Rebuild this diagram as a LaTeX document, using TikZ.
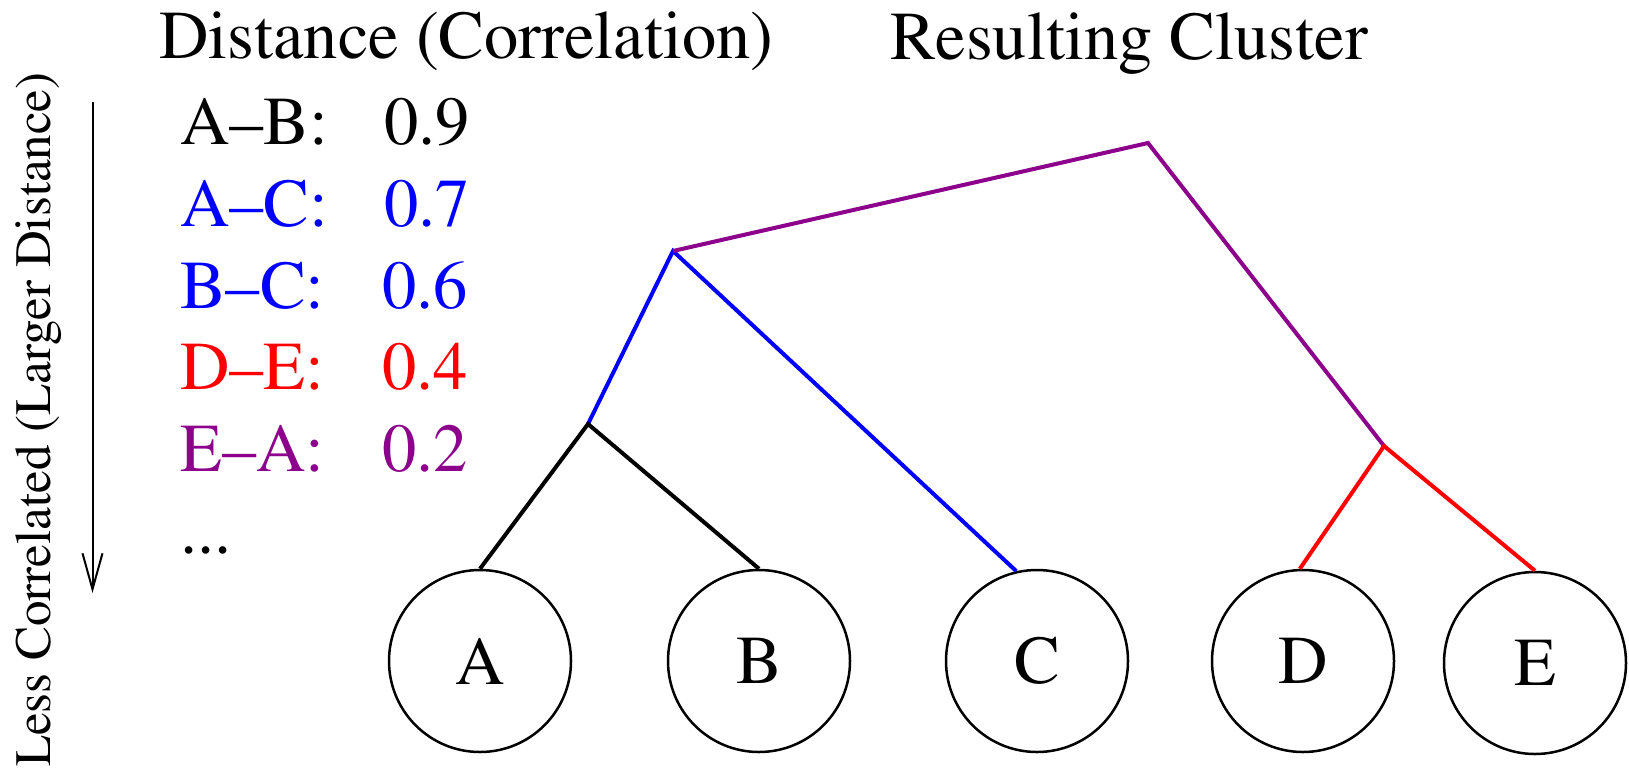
\documentclass[tikz,border=0pt]{standalone}
\usepackage[T1]{fontenc}
\renewcommand{\rmdefault}{ptm}
\usetikzlibrary{arrows.meta}
\definecolor{mypurple}{RGB}{140,0,140}
\definecolor{myblue}{RGB}{0,0,255}
\definecolor{myred}{RGB}{255,0,0}
\begin{document}
\begin{tikzpicture}[x=1pt,y=-1pt,
  txt/.style={anchor=base west,inner sep=0pt,font=\rmfamily\fontsize{68.5}{80}\selectfont},
  sidetxt/.style={anchor=base west,inner sep=0pt,rotate=90,font=\rmfamily\fontsize{51}{60}\selectfont},
  leaf/.style={circle,draw,line width=2.5pt,minimum size=182pt,inner sep=0pt,font=\rmfamily\fontsize{68.5}{80}\selectfont},
  branch/.style={line width=4pt},
  axisarrow/.style={line width=2pt,-{Straight Barb[length=36pt,width=20pt,line width=2pt]}}]
\useasboundingbox (0,0) rectangle (1629,769);

% titles
\node[txt] (t1) at (159,58) {Distance (Correlation)};
\node[txt] (t2) at (890,59) {Resulting Cluster};

% distance list
\node[txt] (l1) at (180,144) {A--B:};
\node[txt] (n1) at (384,144) {0.9};
\node[txt,text=myblue] (l2) at (180,226) {A--C:};
\node[txt,text=myblue] (n2) at (384,226) {0.7};
\node[txt,text=myblue] (l3) at (180,308) {B--C:};
\node[txt,text=myblue] (n3) at (382,308) {0.6};
\node[txt,text=myred] (l4) at (180,389) {D--E:};
\node[txt,text=myred] (n4) at (382,389) {0.4};
\node[txt,text=mypurple] (l5) at (180,471) {E--A:};
\node[txt,text=mypurple] (n5) at (382,471) {0.2};
\node[txt] (dots) at (180,553) {...};

% side label and arrow
\node[sidetxt] (side) at (50,767) {Less Correlated (Larger Distance)};
\coordinate (arrtop) at (92.5,102);
\coordinate (arrbot) at (92.5,593);
\draw[axisarrow] (arrtop) -- (arrbot);

% leaves
\node[leaf] (A) at (480,661) {A};
\node[leaf] (B) at (759,661) {B};
\node[leaf] (C) at (1037,661) {C};
\node[leaf] (D) at (1303,661) {D};
\node[leaf] (E) at (1535,663) {E};

% junctions
\coordinate (ab) at (588,424);
\coordinate (abc) at (673,251);
\coordinate (top) at (1148,143);
\coordinate (de) at (1384,446);

% branches
\draw[branch,myblue] (ab) -- (abc) -- (C.103);
\draw[branch,black] (A.north) -- (ab) -- (B.north);
\draw[branch,mypurple] (abc) -- (top) -- (de);
\draw[branch,myred] (D.92) -- (de) -- (E.north);
\end{tikzpicture}
\end{document}
